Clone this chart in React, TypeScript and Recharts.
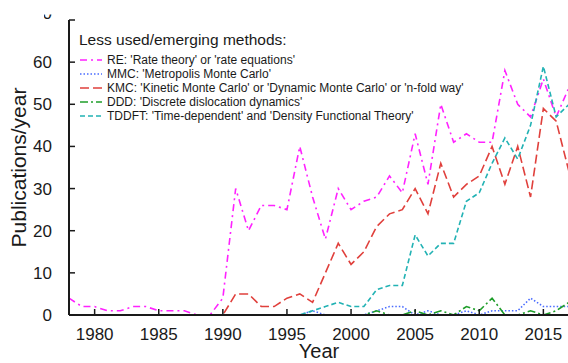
import { LineChart, Line, XAxis, YAxis, Label } from "recharts";

const years = [
  1978, 1979, 1980, 1981, 1982, 1983, 1984, 1985, 1986, 1987,
  1988, 1989, 1990, 1991, 1992, 1993, 1994, 1995, 1996, 1997,
  1998, 1999, 2000, 2001, 2002, 2003, 2004, 2005, 2006, 2007,
  2008, 2009, 2010, 2011, 2012, 2013, 2014, 2015, 2016, 2017,
];

const re = [
  4, 2, 2, 1, 1, 2, 2, 1, 1, 1,
  0, 0, 4, 30, 20, 26, 26, 25, 40, 28,
  18, 30, 25, 27, 28, 33, 29, 43, 31, 50,
  41, 43, 41, 41, 58, 50, 47, 56, 47, 54,
];
const mmc = [
  0, 0, 0, 0, 0, 0, 0, 0, 0, 0,
  0, 0, 0, 0, 0, 0, 0, 0, 0, 1,
  0, 0, 0, 0, 1, 2, 2, 0, 1, 0,
  0, 1, 0, 1, 1, 1, 4, 2, 2, 2,
];
const kmc = [
  0, 0, 0, 0, 0, 0, 0, 0, 0, 0,
  0, 0, 0, 5, 5, 2, 2, 4, 5, 3,
  10, 17, 12, 15, 21, 24, 25, 30, 24, 36,
  28, 31, 33, 40, 31, 40, 28, 49, 46, 34,
];
const ddd = [
  0, 0, 0, 0, 0, 0, 0, 0, 0, 0,
  0, 0, 0, 0, 0, 0, 0, 0, 0, 0,
  0, 0, 0, 0, 1, 0, 0, 1, 0, 1,
  0, 2, 1, 4, 0, 0, 1, 0, 1, 3,
];
const tddft = [
  0, 0, 0, 0, 0, 0, 0, 0, 0, 0,
  0, 0, 0, 0, 0, 0, 0, 0, 0, 1,
  2, 3, 2, 2, 6, 7, 7, 19, 14, 17,
  17, 27, 29, 36, 42, 37, 45, 59, 47, 50,
];

const xTicks = [1980, 1985, 1990, 1995, 2000, 2005, 2010, 2015];
const yTicks = [0, 10, 20, 30, 40, 50, 60, 70];

const series = [
  { key: "re", color: "#ff22ff", dash: "7 4 2 4", label: "RE: 'Rate theory' or 'rate equations'" },
  { key: "mmc", color: "#4a6cff", dash: "1.5 2", label: "MMC: 'Metropolis Monte Carlo'" },
  { key: "kmc", color: "#e0403c", dash: "9 4", label: "KMC: 'Kinetic Monte Carlo' or 'Dynamic Monte Carlo' or 'n-fold way'" },
  { key: "ddd", color: "#1f9e2a", dash: "8 3 2 3", label: "DDD: 'Discrete dislocation dynamics'" },
  { key: "tddft", color: "#22b2b4", dash: "5 3", label: "TDDFT: 'Time-dependent' and 'Density Functional Theory'" },
];

const rows = years.map((year, i) => ({
  year,
  re: re[i],
  mmc: mmc[i],
  kmc: kmc[i],
  ddd: ddd[i],
  tddft: tddft[i],
}));

const FONT = "'Liberation Sans', Arial, Helvetica, sans-serif";
const INK = "#1a1a1a";
const TOP = 20;
const BOTTOM = 315;
const LEFT = 69;
const RIGHT = 569;
const TICK = 6;

function BottomTick(props: any) {
  const { x, payload } = props;
  return (
    <g>
      <line x1={x} x2={x} y1={BOTTOM} y2={BOTTOM - TICK} stroke={INK} strokeWidth={1.5} />
      <text x={x} y={340} textAnchor="middle" fontSize={17} fontFamily={FONT} fill={INK}>
        {payload.value}
      </text>
    </g>
  );
}

function TopTick(props: any) {
  const { x } = props;
  return <line x1={x} x2={x} y1={TOP} y2={TOP + TICK} stroke={INK} strokeWidth={1.5} />;
}

function LeftTick(props: any) {
  const { y, payload } = props;
  // the top label is cropped in the original figure, only its lower edge shows
  const cropped = payload.value === 70;
  return (
    <g>
      <line x1={LEFT} x2={LEFT + TICK} y1={y} y2={y} stroke={INK} strokeWidth={1.5} />
      {cropped && (
        <defs>
          <clipPath id="topcrop">
            <rect x={44} y={14.5} width={12} height={6} />
          </clipPath>
        </defs>
      )}
      <text
        x={52}
        y={cropped ? 18.5 : y + 6}
        textAnchor="end"
        fontSize={17}
        fontFamily={FONT}
        fill={INK}
        clipPath={cropped ? "url(#topcrop)" : undefined}
      >
        {payload.value}
      </text>
    </g>
  );
}

function RightTick(props: any) {
  const { y } = props;
  return <line x1={RIGHT} x2={RIGHT - TICK} y1={y} y2={y} stroke={INK} strokeWidth={1.5} />;
}

function ChartLegend() {
  return (
    <div
      style={{
        position: "absolute",
        left: 79,
        top: 32,
        fontFamily: FONT,
        color: INK,
        lineHeight: 1,
        pointerEvents: "none",
      }}
    >
      <div style={{ fontSize: 15.5, marginBottom: 6, whiteSpace: "nowrap" }}>Less used/emerging methods:</div>
      {series.map((s) => (
        <div key={s.key} style={{ display: "flex", alignItems: "center", height: 13.9, whiteSpace: "nowrap" }}>
          <svg width={24} height={8} style={{ marginRight: 4 }}>
            <line x1={1} x2={23} y1={4} y2={4} stroke={s.color} strokeWidth={1.6} strokeDasharray={s.dash} />
          </svg>
          <span style={{ fontSize: 12 }}>{s.label}</span>
        </div>
      ))}
    </div>
  );
}

export default function App() {
  return (
    <div
      style={{
        position: "absolute",
        left: 0,
        top: 0,
        width: 568,
        height: 363,
        overflow: "hidden",
        background: "#fff",
      }}
    >
      <LineChart
        width={590}
        height={363}
        data={rows}
        margin={{ top: TOP, right: 590 - RIGHT, bottom: 0, left: 0 }}
      >
        <XAxis
          xAxisId="b"
          dataKey="year"
          type="number"
          domain={[1978, 2017]}
          ticks={xTicks}
          allowDataOverflow
          height={363 - BOTTOM}
          axisLine={{ stroke: INK, strokeWidth: 2 }}
          tickLine={false}
          tick={<BottomTick />}
        >
          <Label
            content={() => (
              <text x={(LEFT + RIGHT) / 2} y={358} textAnchor="middle" fontSize={20} fontFamily={FONT} fill={INK}>
                Year
              </text>
            )}
          />
        </XAxis>
        <XAxis
          xAxisId="t"
          orientation="top"
          dataKey="year"
          type="number"
          domain={[1978, 2017]}
          ticks={xTicks}
          allowDataOverflow
          height={0}
          axisLine={{ stroke: INK, strokeWidth: 1.5 }}
          tickLine={false}
          tick={<TopTick />}
        />
        <YAxis
          yAxisId="l"
          domain={[0, 70]}
          ticks={yTicks}
          allowDataOverflow
          width={LEFT}
          axisLine={{ stroke: INK, strokeWidth: 2 }}
          tickLine={false}
          tick={<LeftTick />}
        >
          <Label
            content={() => (
              <text
                transform={`translate(26, ${(TOP + BOTTOM) / 2}) rotate(-90)`}
                textAnchor="middle"
                fontSize={21}
                fontFamily={FONT}
                fill={INK}
              >
                Publications/year
              </text>
            )}
          />
        </YAxis>
        <YAxis
          yAxisId="r"
          orientation="right"
          domain={[0, 70]}
          ticks={yTicks}
          allowDataOverflow
          width={0}
          axisLine={{ stroke: INK, strokeWidth: 1.5 }}
          tickLine={false}
          tick={<RightTick />}
        />
        {series.map((s) => (
          <Line
            key={s.key}
            xAxisId="b"
            yAxisId="l"
            type="linear"
            dataKey={s.key}
            stroke={s.color}
            strokeWidth={1.6}
            strokeDasharray={s.dash}
            dot={false}
            activeDot={false}
            isAnimationActive={false}
          />
        ))}
      </LineChart>
      <ChartLegend />
    </div>
  );
}
